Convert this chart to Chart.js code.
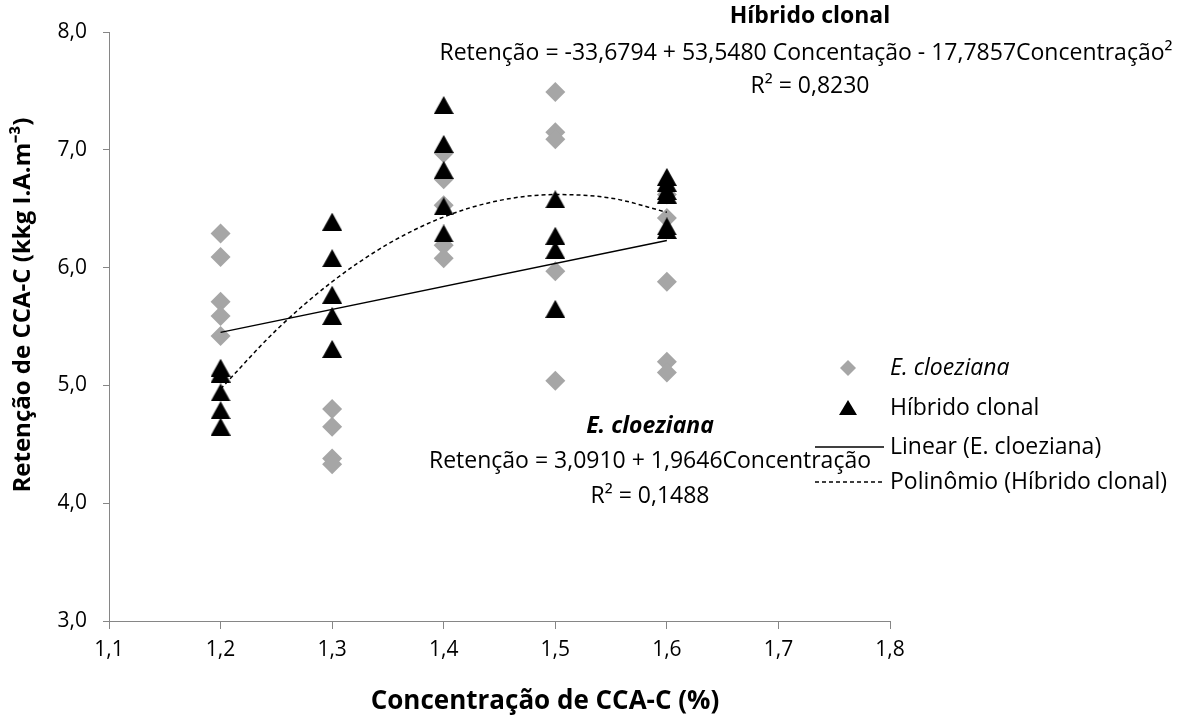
<!DOCTYPE html>
<html>
<head>
<meta charset="utf-8">
<script src="https://cdn.jsdelivr.net/npm/chart.js@4.4.0/dist/chart.umd.min.js"></script>
<style>
  html, body { margin: 0; padding: 0; background: #fff; }
  #caixa { width: 1195px; height: 726px; position: relative; }
</style>
</head>
<body>
<div id="caixa"><canvas id="grafico" width="1195" height="726"></canvas></div>
<script>
// Dados
const concentracoes = [1.2, 1.3, 1.4, 1.5, 1.6];
const cloeziana = [
    [6.29, 6.09, 5.71, 5.59, 5.42],
    [4.80, 4.65, 4.38, 4.33],
    [6.97, 6.75, 6.53, 6.19, 6.08],
    [7.49, 7.15, 7.09, 5.97, 5.04],
    [6.62, 6.42, 5.88, 5.20, 5.11]
];
const hibrido = [
    [5.15, 5.10, 4.94, 4.79, 4.65],
    [6.39, 6.08, 5.77, 5.59, 5.31],
    [7.38, 7.05, 6.83, 6.52, 6.29],
    [6.58, 6.27, 6.15, 5.65],
    [6.77, 6.72, 6.65, 6.62, 6.35, 6.32]
];
// linhas de tendência (pontos lidos sobre as curvas)
const linearX = [1.2, 1.6];
const linearY = [5.45, 6.23];
const poliX = [1.2, 1.25, 1.3, 1.35, 1.4, 1.45, 1.5, 1.55, 1.6];
const poliY = [4.97, 5.47, 5.88, 6.20, 6.43, 6.57, 6.62, 6.59, 6.47];
const ticksX = [1.1, 1.2, 1.3, 1.4, 1.5, 1.6, 1.7, 1.8];
const ticksY = [3, 4, 5, 6, 7, 8];

const cinza = '#A6A6A6';
const fonte = '"Open Sans", sans-serif';
const virgula = v => Number(v).toFixed(1).replace('.', ',');

function pontos(grupos) {
    const out = [];
    grupos.forEach((vals, i) => vals.forEach(v => out.push({ x: concentracoes[i], y: v })));
    return out;
}

// marcador triângulo estilo Excel (centro na caixa)
function triangulo(w, h) {
    const c = document.createElement('canvas');
    c.width = w; c.height = h;
    const ctx = c.getContext('2d');
    ctx.fillStyle = '#000';
    ctx.beginPath();
    ctx.moveTo(w / 2, 0);
    ctx.lineTo(w, h);
    ctx.lineTo(0, h);
    ctx.closePath();
    ctx.fill();
    return c;
}
const triGrande = triangulo(20, 18);

const anotacoes = {
    id: 'anotacoes',
    afterDraw(chart) {
        const ctx = chart.ctx;
        ctx.save();
        ctx.fillStyle = '#000';
        ctx.textBaseline = 'middle';
        ctx.textAlign = 'center';

        // títulos dos eixos (deslocados como no original)
        ctx.font = 'bold 26px ' + fonte;
        ctx.fillText('Concentração de CCA-C (%)', 545, 702);
        ctx.save();
        ctx.translate(23, 305);
        ctx.rotate(-Math.PI / 2);
        ctx.font = 'bold 24px ' + fonte;
        ctx.fillText('Retenção de CCA-C (kkg I.A.m⁻³)', 0, 0);
        ctx.restore();

        // Híbrido clonal
        ctx.font = 'bold 23px ' + fonte;
        ctx.fillText('Híbrido clonal', 810, 16);
        ctx.font = '23px ' + fonte;
        ctx.fillText('Retenção = -33,6794 + 53,5480 Concentação - 17,7857Concentração²', 806, 53);
        ctx.fillText('R² = 0,8230', 810, 86);

        // E. cloeziana
        ctx.font = 'italic bold 23px ' + fonte;
        ctx.fillText('E. cloeziana', 650, 426);
        ctx.font = '23px ' + fonte;
        ctx.fillText('Retenção = 3,0910 + 1,9646Concentração', 650, 461);
        ctx.fillText('R² = 0,1488', 650, 496);

        // legenda
        const lx = 848, tx = 890;
        ctx.textAlign = 'left';
        ctx.fillStyle = cinza;
        ctx.beginPath();
        ctx.moveTo(lx, 368 - 8); ctx.lineTo(lx + 8, 368); ctx.lineTo(lx, 368 + 8); ctx.lineTo(lx - 8, 368);
        ctx.closePath(); ctx.fill();
        ctx.fillStyle = '#000';
        ctx.beginPath();
        ctx.moveTo(lx, 400); ctx.lineTo(lx + 9, 415); ctx.lineTo(lx - 9, 415);
        ctx.closePath(); ctx.fill();
        ctx.lineWidth = 1.5;
        ctx.strokeStyle = '#000';
        ctx.beginPath(); ctx.moveTo(815, 447); ctx.lineTo(884, 447); ctx.stroke();
        ctx.setLineDash([4, 3]);
        ctx.beginPath(); ctx.moveTo(815, 482); ctx.lineTo(884, 482); ctx.stroke();
        ctx.setLineDash([]);
        ctx.font = 'italic 23px ' + fonte;
        ctx.fillText('E. cloeziana', tx, 368);
        ctx.font = '23px ' + fonte;
        ctx.fillText('Híbrido clonal', tx, 408);
        ctx.fillText('Linear (E. cloeziana)', tx, 447);
        ctx.fillText('Polinômio (Híbrido clonal)', tx, 482);
        ctx.restore();
    }
};

new Chart(document.getElementById('grafico'), {
    type: 'scatter',
    data: {
        datasets: [
            {
                label: 'Linear (E. cloeziana)',
                type: 'line',
                data: linearX.map((x, i) => ({ x: x, y: linearY[i] })),
                borderColor: '#000', borderWidth: 1.5, pointRadius: 0, fill: false, order: 0
            },
            {
                label: 'Polinômio (Híbrido clonal)',
                type: 'line',
                data: poliX.map((x, i) => ({ x: x, y: poliY[i] })),
                borderColor: '#000', borderWidth: 1.5, borderDash: [4, 3],
                cubicInterpolationMode: 'monotone', pointRadius: 0, fill: false, order: 0
            },
            {
                label: 'Híbrido clonal',
                data: pontos(hibrido),
                pointStyle: triGrande, backgroundColor: '#000', order: 1
            },
            {
                label: 'E. cloeziana',
                data: pontos(cloeziana),
                pointStyle: 'rectRot', pointRadius: 10, backgroundColor: cinza, borderWidth: 0, order: 2
            }
        ]
    },
    options: {
        responsive: false,
        animation: false,
        layout: { padding: { left: 0, top: 32, right: 305, bottom: 0 } },
        plugins: { legend: { display: false }, tooltip: { enabled: false } },
        scales: {
            x: {
                type: 'linear', min: 1.1, max: 1.8,
                afterBuildTicks: s => { s.ticks = ticksX.map(v => ({ value: v })); },
                afterFit: s => { s.height = 105; },
                grid: { drawOnChartArea: false, drawTicks: true, tickLength: 8, color: '#868686' },
                border: { color: '#868686', width: 1 },
                ticks: { callback: virgula, color: '#000', font: { family: fonte, size: 21 }, padding: 8, maxRotation: 0 },
                title: { display: false }
            },
            y: {
                min: 3, max: 8,
                afterBuildTicks: s => { s.ticks = ticksY.map(v => ({ value: v })); },
                afterFit: s => { s.width = 109; },
                grid: { drawOnChartArea: false, drawTicks: true, tickLength: 6, color: '#868686' },
                border: { color: '#868686', width: 1 },
                ticks: { callback: virgula, color: '#000', font: { family: fonte, size: 21 }, padding: 16 },
                title: { display: false }
            }
        }
    },
    plugins: [anotacoes]
});
</script>
</body>
</html>
